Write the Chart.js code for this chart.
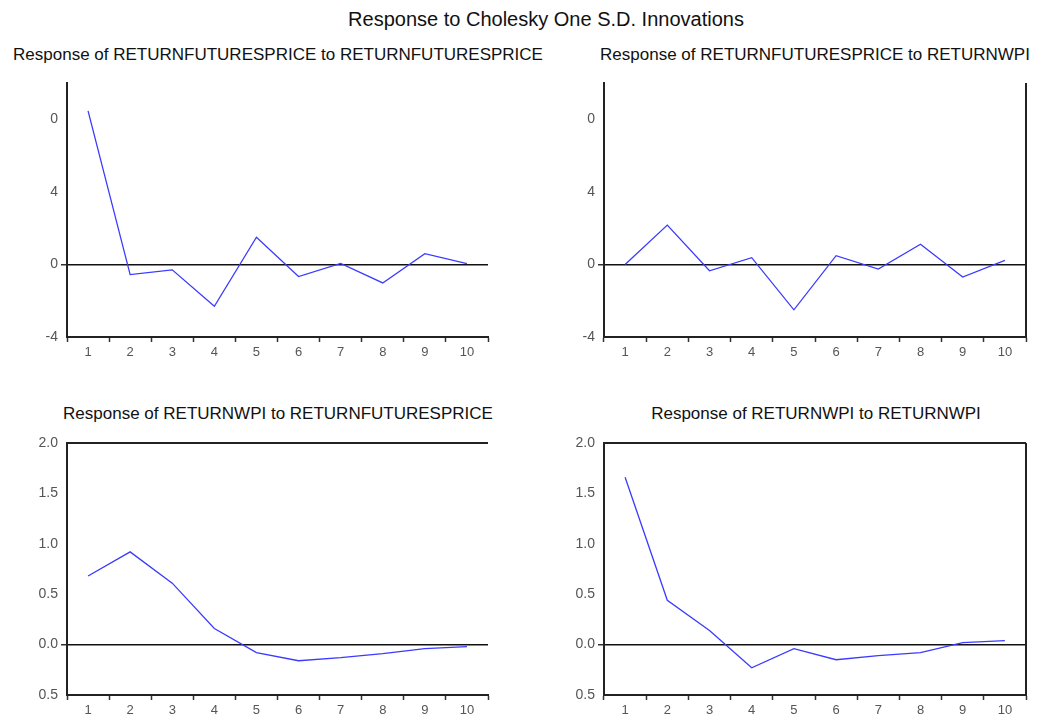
<!DOCTYPE html>
<html>
<head>
<meta charset="utf-8">
<script src="https://cdn.jsdelivr.net/npm/chart.js@4"></script>
<style>
  body { margin: 0; background: #fff; }
  #page { position: relative; width: 1038px; height: 720px; overflow: hidden; font-family: "Liberation Sans", Arial, sans-serif; color: #111; }
  .title { position: absolute; white-space: nowrap; transform: translateX(-50%); }
  .main { font-size: 20px; top: 8px; left: 546px; }
  .sub { font-size: 17px; }
  canvas { position: absolute; }
</style>
</head>
<body>
<div id="page">
  <div class="title main">Response to Cholesky One S.D. Innovations</div>
  <div class="title sub" style="left:278px; top:45px;">Response of RETURNFUTURESPRICE to RETURNFUTURESPRICE</div>
  <div class="title sub" style="left:815px; top:45px;">Response of RETURNFUTURESPRICE to RETURNWPI</div>
  <div class="title sub" style="left:278px; top:404px;">Response of RETURNWPI to RETURNFUTURESPRICE</div>
  <div class="title sub" style="left:816px; top:404px;">Response of RETURNWPI to RETURNWPI</div>
  <canvas id="c1" style="left:0; top:70px;"></canvas>
  <canvas id="c2" style="left:519px; top:70px;"></canvas>
  <canvas id="c3" style="left:0; top:430px;"></canvas>
  <canvas id="c4" style="left:519px; top:430px;"></canvas>
</div>
<script>
// periods on the x axis
var steps = ['1', '2', '3', '4', '5', '6', '7', '8', '9', '10'];

// impulse responses
var fpToFp = [8.46, -0.56, -0.30, -2.31, 1.50, -0.67, 0.06, -1.02, 0.59, 0.04];
var fpToWpi = [0.00, 2.17, -0.35, 0.37, -2.50, 0.48, -0.26, 1.11, -0.70, 0.22];
var wpiToFp = [0.68, 0.92, 0.61, 0.16, -0.08, -0.16, -0.13, -0.09, -0.04, -0.02];
var wpiToWpi = [1.66, 0.44, 0.14, -0.23, -0.04, -0.15, -0.11, -0.08, 0.02, 0.04];

// y ticks and the labels as printed
var topTicks = [-4, 0, 4, 8];
var topTickText = ['-4', '0', '4', '0'];
var bottomTicks = [-0.5, 0, 0.5, 1, 1.5, 2];
var bottomTickText = ['0.5', '0.0', '0.5', '1.0', '1.5', '2.0'];

// draws the extra frame sides (top / right) some panels have
var framePlugin = {
  id: 'frame',
  afterDraw: function(chart, args, opts) {
    var a = chart.chartArea, c = chart.ctx;
    c.save();
    c.strokeStyle = '#222';
    c.lineWidth = 2;
    c.beginPath();
    if (opts.top) { c.moveTo(a.left, a.top); c.lineTo(a.right, a.top); }
    if (opts.right) { c.moveTo(a.right, a.top); c.lineTo(a.right, a.bottom); }
    c.stroke();
    c.restore();
  }
};

function makePanel(id, w, h, data, ticks, tickText, min, max, cfg) {
  var canvas = document.getElementById(id);
  canvas.width = w;
  canvas.height = h;
  canvas.style.width = w + 'px';
  canvas.style.height = h + 'px';

  new Chart(canvas.getContext('2d'), {
    type: 'line',
    data: {
      labels: steps,
      datasets: [{
        data: data,
        borderColor: '#3b3bff',
        borderWidth: 1.3,
        pointRadius: 0,
        tension: 0,
        fill: false
      }]
    },
    options: {
      responsive: false,
      animation: false,
      layout: { padding: { top: cfg.padTop, right: cfg.padRight, left: 0, bottom: 0 } },
      plugins: {
        legend: { display: false },
        tooltip: { enabled: false },
        frame: { top: cfg.top, right: cfg.right }
      },
      scales: {
        x: {
          offset: true,
          grid: { offset: true, drawOnChartArea: false, tickLength: 5, tickColor: '#333', tickWidth: 1.5 },
          border: { color: '#222', width: 2 },
          ticks: { color: '#555', font: { size: 13, family: 'Liberation Sans' }, padding: 3, maxRotation: 0 },
          afterFit: function(s) { s.height = cfg.xHeight; }
        },
        y: {
          min: min,
          max: max,
          afterBuildTicks: function(s) { s.ticks = ticks.map(function(v) { return { value: v }; }); },
          grid: {
            color: function(c) { return c.tick && c.tick.value === 0 ? '#111' : 'rgba(0,0,0,0)'; },
            lineWidth: function(c) { return c.tick && c.tick.value === 0 ? 1.5 : 0; },
            tickLength: 6,
            tickColor: '#333'
          },
          border: { color: '#222', width: 2 },
          ticks: {
            color: '#555',
            font: { size: 14, family: 'Liberation Sans' },
            padding: 3,
            callback: function(value, index) { return tickText[index]; }
          },
          afterFit: function(s) { s.width = cfg.yWidth; }
        }
      }
    },
    plugins: [framePlugin]
  });
}

makePanel('c1', 519, 300, fpToFp, topTicks, topTickText, -4, 10,
  { yWidth: 67, padRight: 31, padTop: 13, xHeight: 33, top: false, right: false });
makePanel('c2', 519, 300, fpToWpi, topTicks, topTickText, -4, 10,
  { yWidth: 85, padRight: 12, padTop: 13, xHeight: 33, top: false, right: true });
makePanel('c3', 519, 290, wpiToFp, bottomTicks, bottomTickText, -0.5, 2,
  { yWidth: 67, padRight: 31, padTop: 13, xHeight: 25, top: true, right: false });
makePanel('c4', 519, 290, wpiToWpi, bottomTicks, bottomTickText, -0.5, 2,
  { yWidth: 85, padRight: 12, padTop: 13, xHeight: 25, top: true, right: true });
</script>
</body>
</html>
